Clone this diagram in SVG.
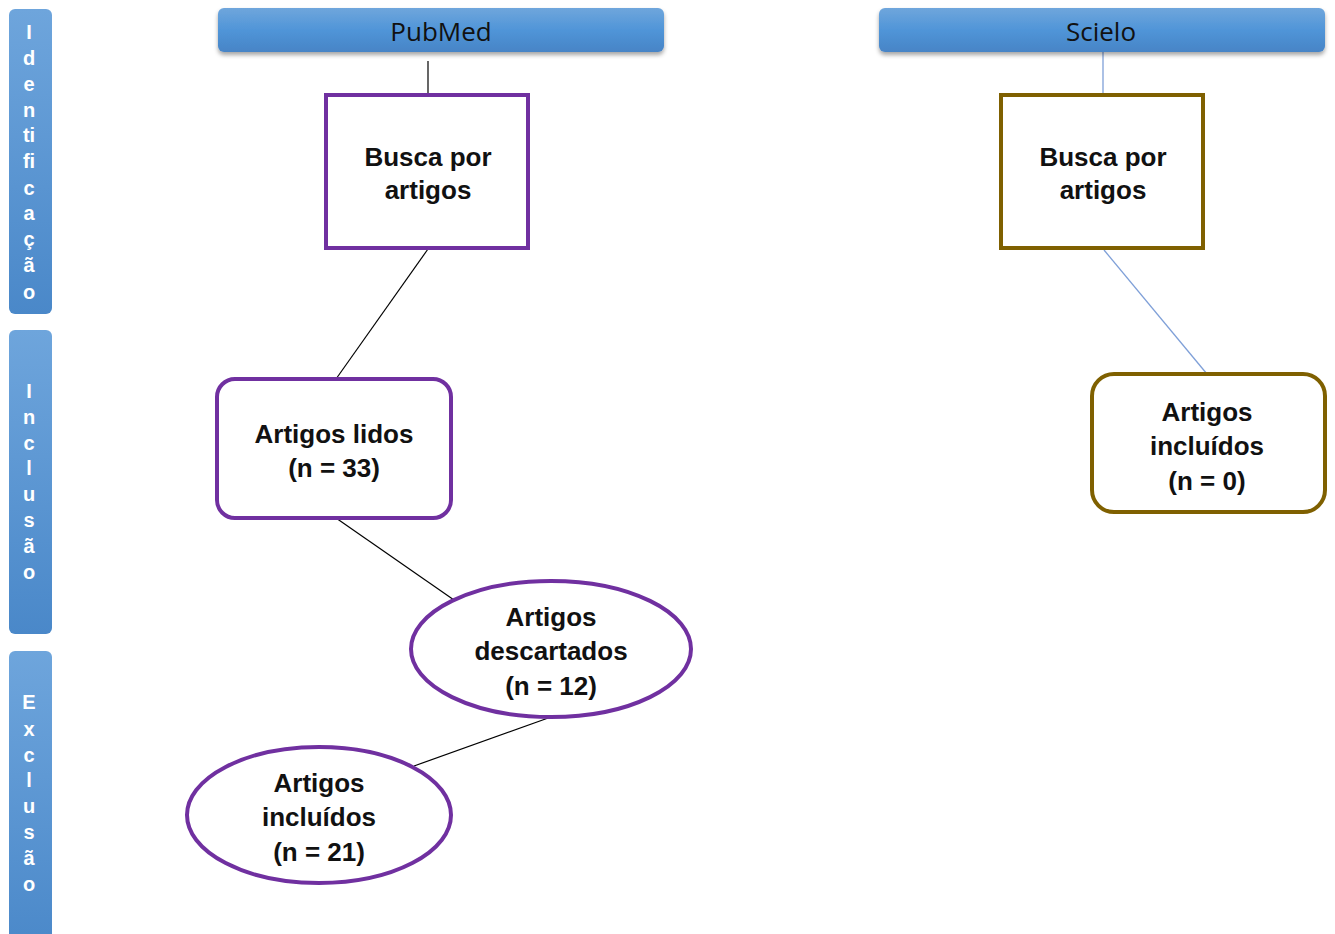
<svg xmlns="http://www.w3.org/2000/svg" width="1335" height="934" viewBox="0 0 1335 934">
<defs>
<linearGradient id="blue" x1="0" y1="0" x2="0" y2="1">
<stop offset="0" stop-color="#6fa6dc"/>
<stop offset="0.5" stop-color="#5095d8"/>
<stop offset="1" stop-color="#4784c6"/>
</linearGradient>
<linearGradient id="blueV" x1="0" y1="0" x2="0" y2="1">
<stop offset="0" stop-color="#6ea5dc"/>
<stop offset="1" stop-color="#4a88c9"/>
</linearGradient>
<filter id="sh" x="-5%" y="-20%" width="110%" height="160%">
<feDropShadow dx="0" dy="3" stdDeviation="2" flood-color="#000" flood-opacity="0.35"/>
</filter>
</defs>
<style>
.side{fill:url(#blueV)}
.vt{font-family:"Liberation Sans",Arial,sans-serif;font-weight:bold;font-size:20px;fill:#fff;text-anchor:middle}
.hdr{fill:url(#blue);filter:url(#sh)}
.ht{font-family:"Open Sans","Liberation Sans",sans-serif;font-size:26px;fill:#111;text-anchor:middle}
.bt{font-family:"Liberation Sans",Arial,sans-serif;font-weight:bold;font-size:26px;fill:#111;text-anchor:middle}
.pur{fill:#fff;stroke:#7030a0;stroke-width:4}
.gold{fill:#fff;stroke:#7f6000;stroke-width:4}
.cb{stroke:#000;stroke-width:1.2;fill:none}
.cl{stroke:#7fa0d8;stroke-width:1.3;fill:none}
</style>
<rect width="1335" height="934" fill="#fff"/>
<g id="side-identificacao">
<rect class="side" x="9" y="9" width="43" height="305" rx="6"/>
<text class="vt"><tspan x="29" y="39">I</tspan><tspan x="29" y="65">d</tspan><tspan x="29" y="91">e</tspan><tspan x="29" y="117">n</tspan><tspan x="29" y="142">ti</tspan><tspan x="29" y="168">fi</tspan><tspan x="29" y="195">c</tspan><tspan x="29" y="220">a</tspan><tspan x="29" y="246">ç</tspan><tspan x="29" y="272">ã</tspan><tspan x="29" y="299">o</tspan></text>
</g>
<g id="side-inclusao">
<rect class="side" x="9" y="330" width="43" height="304" rx="6"/>
<text class="vt"><tspan x="29" y="398">I</tspan><tspan x="29" y="424">n</tspan><tspan x="29" y="450">c</tspan><tspan x="29" y="475">l</tspan><tspan x="29" y="501">u</tspan><tspan x="29" y="527">s</tspan><tspan x="29" y="553">ã</tspan><tspan x="29" y="579">o</tspan></text>
</g>
<g id="side-exclusao">
<rect class="side" x="9" y="651" width="43" height="300" rx="6"/>
<text class="vt"><tspan x="29" y="709">E</tspan><tspan x="29" y="736">x</tspan><tspan x="29" y="762">c</tspan><tspan x="29" y="787">l</tspan><tspan x="29" y="813">u</tspan><tspan x="29" y="839">s</tspan><tspan x="29" y="865">ã</tspan><tspan x="29" y="891">o</tspan></text>
</g>
<g id="connectors">
<line class="cb" x1="428" y1="61" x2="428" y2="95"/>
<line class="cb" x1="428" y1="249" x2="336" y2="379"/>
<line class="cb" x1="336" y1="518" x2="454" y2="600"/>
<line class="cb" x1="551" y1="717" x2="414" y2="766"/>
<line class="cl" x1="1103" y1="52" x2="1103" y2="95"/>
<line class="cl" x1="1104" y1="250" x2="1207" y2="374"/>
</g>
<g id="pubmed">
<rect class="hdr" x="218" y="8" width="446" height="44" rx="6"/>
<text class="ht" x="441" y="41">PubMed</text>
</g>
<g id="scielo">
<rect class="hdr" x="879" y="8" width="446" height="44" rx="6"/>
<text class="ht" x="1101" y="41">Scielo</text>
</g>
<g id="busca-pubmed">
<rect class="pur" x="326" y="95" width="202" height="153"/>
<text class="bt"><tspan x="428" y="166">Busca por</tspan><tspan x="428" y="199">artigos</tspan></text>
</g>
<g id="busca-scielo">
<rect class="gold" x="1001" y="95" width="202" height="153"/>
<text class="bt"><tspan x="1103" y="166">Busca por</tspan><tspan x="1103" y="199">artigos</tspan></text>
</g>
<g id="artigos-lidos">
<rect class="pur" x="217" y="379" width="234" height="139" rx="18"/>
<text class="bt"><tspan x="334" y="443">Artigos lidos</tspan><tspan x="334" y="477">(n = 33)</tspan></text>
</g>
<g id="artigos-descartados">
<ellipse class="pur" cx="551" cy="649" rx="140" ry="68"/>
<text class="bt"><tspan x="551" y="626">Artigos</tspan><tspan x="551" y="660">descartados</tspan><tspan x="551" y="695">(n = 12)</tspan></text>
</g>
<g id="artigos-incluidos-pubmed">
<ellipse class="pur" cx="319" cy="815" rx="132" ry="68"/>
<text class="bt"><tspan x="319" y="792">Artigos</tspan><tspan x="319" y="826">incluídos</tspan><tspan x="319" y="861">(n = 21)</tspan></text>
</g>
<g id="artigos-incluidos-scielo">
<rect class="gold" x="1092" y="374" width="233" height="138" rx="22"/>
<text class="bt"><tspan x="1207" y="421">Artigos</tspan><tspan x="1207" y="455">incluídos</tspan><tspan x="1207" y="490">(n = 0)</tspan></text>
</g>
</svg>
